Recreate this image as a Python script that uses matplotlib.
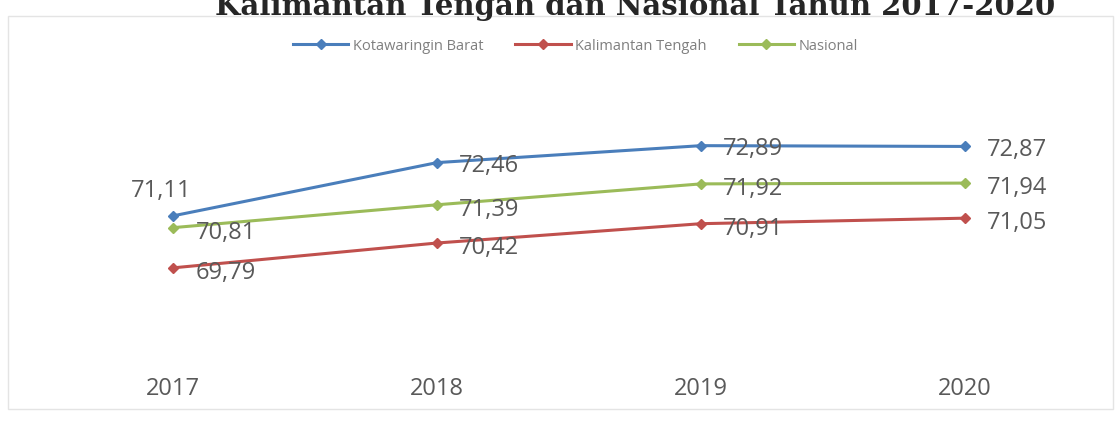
import matplotlib
matplotlib.use("Agg")
import matplotlib.pyplot as plt
from matplotlib.patches import Rectangle

years = ["2017", "2018", "2019", "2020"]
kobar = [71.11, 72.46, 72.89, 72.87]
kalteng = [69.79, 70.42, 70.91, 71.05]
nasional = [70.81, 71.39, 71.92, 71.94]

series_names = ["Kotawaringin Barat", "Kalimantan Tengah", "Nasional"]
colors = ["#4A7EBB", "#C0504D", "#9BBB59"]

plt.rcParams["font.family"] = ["Open Sans", "DejaVu Sans"]

fig = plt.figure(figsize=(11.18, 4.27), dpi=100)
ax = fig.add_axes([0.037, 0.136, 0.944, 0.623])

x = list(range(len(years)))
for name, vals, col in zip(series_names, [kobar, kalteng, nasional], colors):
    ax.plot(x, vals, color=col, lw=2.2, marker="D", ms=5.5, label=name, zorder=3)

label_color = "#595959"
fs = 17


def fmt(v):
    return f"{v:.2f}".replace(".", ",")


# value labels: first point of the top series sits above its marker
for i, v in enumerate(kobar):
    if i == 0:
        ax.annotate(fmt(v), (x[i], v), xytext=(-9, 10),
                    textcoords="offset points", ha="center", va="bottom",
                    fontsize=fs, color=label_color)
    else:
        ax.annotate(fmt(v), (x[i], v), xytext=(16, -2),
                    textcoords="offset points", ha="left", va="center",
                    fontsize=fs, color=label_color)
for vals in (kalteng, nasional):
    for i, v in enumerate(vals):
        ax.annotate(fmt(v), (x[i], v), xytext=(16, -3),
                    textcoords="offset points", ha="left", va="center",
                    fontsize=fs, color=label_color)

ax.set_xlim(-0.5, 3.5)
ax.set_ylim(67.25, 74.0)
ax.set_xticks(x)
ax.set_xticklabels(years, fontsize=fs, color=label_color)
ax.tick_params(axis="x", length=0, pad=6)
ax.set_yticks([])
for s in ax.spines.values():
    s.set_visible(False)

ax.legend(loc="center", bbox_to_anchor=(0.506, 1 + (103 - 47) / 266), ncol=3,
          frameon=False, fontsize=10.5, labelcolor="#7f7f7f", handlelength=3.8,
          columnspacing=2.2, handletextpad=0.3)

fig.text(1055 / 1118, 1 - 15 / 427, "Kalimantan Tengah dan Nasional Tahun 2017-2020",
         ha="right", va="baseline", fontsize=21, fontweight="bold",
         family="DejaVu Serif", color="#262626")

fig.patches.append(Rectangle((8 / 1118, 1 - 410 / 427), 1105 / 1118, 393 / 427,
                             transform=fig.transFigure, fill=False,
                             edgecolor="#e4e4e4", lw=1.0))

fig.savefig("out.png", dpi=100, facecolor="white")
